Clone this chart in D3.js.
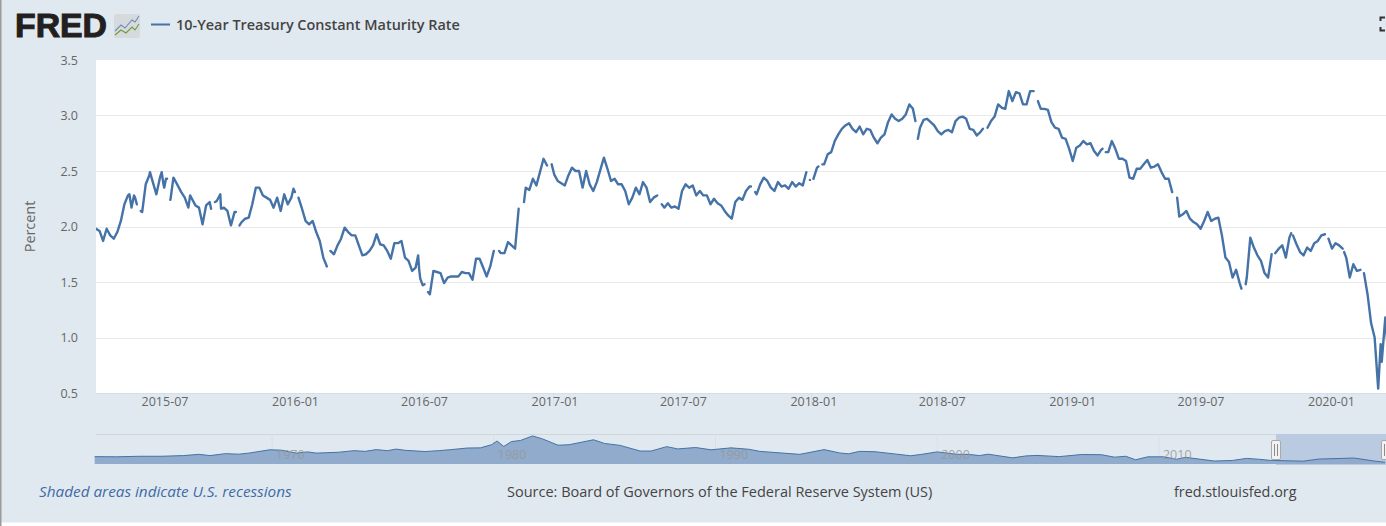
<!DOCTYPE html>
<html><head><meta charset="utf-8">
<script src="https://cdnjs.cloudflare.com/ajax/libs/d3/7.8.5/d3.min.js"></script>
<style>html,body{margin:0;padding:0;background:#fff;overflow:hidden}svg{display:block}text{font-family:"Open Sans",sans-serif}</style>
</head><body><svg id="c" width="1386" height="526"></svg>
<script>
const seriesName = "10-Year Treasury Constant Maturity Rate";
const firstDate = "2015-04-02";
const stepDays = 5;
const yTicks = [0.5,1.0,1.5,2.0,2.5,3.0,3.5];
const xTicks = ["2015-07","2016-01","2016-07","2017-01","2017-07","2018-01","2018-07","2019-01","2019-07","2020-01"];
const rates = [
1.98,1.96,1.87,1.98,1.92,1.89,1.95,2.05,2.20,2.28,2.17,2.26,null,2.13,2.38,2.46,2.40,2.29,2.44,2.38,2.43,
2.25,2.43,2.37,2.31,2.26,2.17,2.25,2.19,2.17,2.02,2.19,2.22,null,2.23,2.29,2.17,2.14,2.01,2.13,null,2.04,
2.07,2.08,2.20,2.35,2.35,2.28,2.26,2.24,2.17,2.26,2.14,2.29,2.20,2.26,2.31,2.26,2.16,2.05,2.02,2.05,1.95,
1.87,1.72,1.64,1.78,1.75,1.83,1.89,1.99,1.95,1.92,1.92,1.83,1.74,1.75,1.78,1.83,1.93,1.84,1.83,1.78,1.71,
1.85,1.85,1.87,1.72,1.69,1.60,1.63,1.61,1.47,null,1.39,1.60,1.59,1.58,1.49,1.54,1.55,1.55,1.55,1.59,1.58,
1.58,1.52,1.71,1.71,1.63,1.55,1.64,1.78,null,1.76,1.76,1.86,1.83,1.80,2.16,null,2.35,2.33,2.43,2.37,2.49,
2.61,2.55,null,2.47,2.41,2.39,2.37,2.46,2.53,2.50,2.50,2.35,2.50,2.38,2.32,2.40,2.51,2.62,2.52,2.41,2.43,
2.38,2.38,2.32,2.20,2.26,2.35,2.29,2.40,2.35,2.22,2.26,2.28,null,2.17,2.21,2.17,2.18,2.16,2.32,2.38,2.35,
2.37,2.28,2.32,2.28,2.28,2.20,2.25,2.21,2.19,2.14,2.10,2.07,2.22,2.26,2.24,2.32,2.36,null,2.29,2.38,2.44,
2.41,2.35,2.32,2.40,2.36,2.37,2.34,2.40,2.36,2.39,2.37,2.49,2.42,2.43,2.53,null,2.56,2.65,2.67,2.77,2.83,
2.88,2.91,2.93,2.88,2.85,2.90,2.83,2.88,2.87,2.80,2.75,2.80,2.83,2.94,3.01,2.97,2.95,2.97,3.01,3.10,3.06,
null,2.89,2.96,2.97,2.94,2.91,2.86,2.83,2.86,2.87,2.85,2.95,2.98,2.99,2.97,2.88,2.87,2.82,2.85,null,2.89,
2.95,2.99,3.10,3.07,3.06,3.22,3.13,3.21,3.20,3.10,3.10,3.22,3.22,null,3.06,3.06,3.05,2.94,2.89,2.88,2.80,
2.79,2.70,2.59,2.71,2.73,2.77,2.74,2.75,2.68,2.64,2.69,null,2.67,2.77,2.70,2.61,2.61,2.59,2.44,2.43,2.52,
2.52,2.56,2.60,2.53,2.54,2.56,2.49,2.43,2.43,2.31,null,2.09,2.11,2.14,2.07,2.04,2.02,1.98,2.05,2.13,2.05,
2.07,2.08,1.92,1.72,1.68,1.54,1.61,1.49,null,1.54,1.90,1.81,1.74,1.69,1.58,1.54,1.75,1.76,1.80,1.83,1.72,
1.90,1.92,1.84,1.77,1.74,1.81,1.78,1.85,1.87,1.92,1.93,1.89,1.80,1.85,1.83,1.80,1.72,1.54,1.66,1.60,1.61,
1.58,1.39,1.13,1.00,0.54,0.78,1.18,0.77];
// extra readings between the regular samples: sample position, then rate (null marks a hole in the published series)
const extraSteps = [9.4,10.7,11.5,12.6,15.2,18.5,19.2,19.7,20.5,20.9,21.8,26.5,32.4,33.5,35.2,39.4,40.4,55.6,56.7,65.5,90.7,91.3,92.5,93.5,113.5,120.5,128.3,159.3,184.4,185.6,200.6,201.6,203.4,204.5,230.7,231.4,249.7,265.2,283.4,284.3,304.4,322.5,323.7,331.5,336.5,336.9,346.6,351.1,351.4,356.5,361.7];
const extraRates = [2.29,2.28,2.20,2.14,2.49,2.49,2.35,2.43,null,2.24,2.44,2.28,2.16,2.22,2.16,2.13,2.01,2.34,null,null,1.74,1.53,1.48,1.41,1.78,2.22,2.56,2.20,2.36,2.31,null,null,2.54,2.56,2.95,2.79,2.88,3.13,2.70,2.67,2.26,1.44,1.48,null,1.94,null,null,null,1.77,null,0.94];

const navYears = [1962,1963,1964,1965,1966,1966.7,1967.2,1967.9,1968.5,1969,1969.9,1970.4,1971.1,1971.6,1972,1973,1973.7,1974.2,1974.7,1975.2,1975.6,1976,1976.9,1977.5,1978,1978.8,1979.4,1979.9,1980.15,1980.45,1980.8,1981.2,1981.75,1982.2,1982.9,1983.4,1984.5,1985,1985.7,1986.6,1987.1,1987.8,1988.3,1989.1,1989.8,1990.7,1991.5,1992,1993.8,1994.9,1995.6,1996,1996.5,1997.2,1998.8,1999.3,2000,2000.9,2001.4,2001.9,2002.3,2003.4,2004,2004.5,2005.5,2006.5,2007.4,2008,2008.5,2008.95,2009.5,2010.2,2010.8,2011.2,2012.5,2013.3,2013.95,2014.5,2015,2016.5,2017.2,2018.8,2019.7,2020.2];
const navRates = [4.0,3.9,4.2,4.2,4.6,5.3,4.6,5.7,5.4,6.1,7.9,7.7,6.0,6.7,6.0,6.5,7.4,7.0,8.0,7.4,8.3,7.6,6.9,7.4,7.9,8.9,9.0,10.8,12.9,9.8,12.6,13.2,15.8,14.1,10.5,10.8,13.6,11.5,10.4,7.2,7.2,9.7,8.4,9.2,7.9,9.0,8.2,7.0,5.3,8.0,6.1,5.6,7.0,6.8,4.5,5.3,6.7,5.3,5.3,4.6,5.4,3.3,4.4,4.7,4.0,5.2,5.1,3.7,4.2,2.2,3.9,3.9,2.5,3.6,1.5,1.8,3.0,2.5,1.9,1.4,2.6,3.2,1.5,0.8];
const navLabels = [1970,1980,1990,2000,2010];

const svg = d3.select("#c");
const W=1386,H=526;
const L=96,R=1386,T=60,B=393;
const parse = d3.utcParse("%Y-%m-%d");
const start = parse(firstDate);
const atStep = s => new Date(+start + s*stepDays*864e5);
const pts = rates.map((v,i)=>({s:i,v})).concat(extraSteps.map((s,i)=>({s,v:extraRates[i]})))
  .sort((a,b)=>a.s-b.s).map(p=>({d:atStep(p.s),v:p.v}));

svg.append("rect").attr("width",W).attr("height",522.5).attr("fill","#e1e9f0");
svg.append("rect").attr("width",1.5).attr("height",526).attr("fill","#9a9a9a");

const x = d3.scaleUtc().domain([start,d3.utcDay.offset(start,1816)]).range([L,R]);
const y = d3.scaleLinear().domain([0.5,3.5]).range([B,T]);

svg.append("rect").attr("x",L).attr("y",T).attr("width",R-L).attr("height",B-T).attr("fill","#fff");

// grid
svg.append("g").selectAll("line").data(yTicks.filter(t=>t>0.5&&t<3.5)).join("line")
  .attr("x1",L).attr("x2",R).attr("y1",d=>Math.round(y(d))+.5).attr("y2",d=>Math.round(y(d))+.5)
  .attr("stroke","#e9e9e9").attr("stroke-width",1.2);
svg.append("line").attr("x1",L).attr("x2",R).attr("y1",B+.5).attr("y2",B+.5).attr("stroke","#d5deea");

// y axis labels
const yG = svg.append("g").attr("transform",`translate(${L-18},0)`)
  .call(d3.axisLeft(y).tickValues(yTicks).tickFormat(d3.format(".1f")).tickSize(0).tickPadding(0));
yG.select(".domain").remove();
yG.selectAll("text").attr("font-size",12.5).attr("fill","#666").attr("font-family",'"Open Sans",sans-serif');

// x axis: tick marks and labels sit on slightly different spacings in the source chart
const monthFmt = d3.utcFormat("%Y-%m");
const xDates = xTicks.map(s=>parse(s+"-01"));
const edge = [xDates[0],xDates[xDates.length-1]];
const xTick = d3.scaleUtc().domain(edge).range([164.3,1327]);
const xLabel = d3.scaleUtc().domain(edge).range([164.5,1331]);
const xG = svg.append("g").attr("transform",`translate(0,${B})`)
  .call(d3.axisBottom(xTick).tickValues(xDates).tickFormat(monthFmt).tickSize(0).tickPadding(0));
xG.select(".domain").remove();
xG.selectAll("text").attr("font-size",12.5).attr("fill","#666").attr("font-family",'"Open Sans",sans-serif')
  .attr("dx",d=>xLabel(d)-xTick(d)).attr("dy",13);
xG.selectAll("line").attr("y2",12).attr("stroke","#d3deea").attr("stroke-width",1);

svg.append("text").attr("transform",`translate(35,${(T+B)/2}) rotate(-90)`).attr("text-anchor","middle")
  .attr("font-size",14.4).attr("fill","#666").text("Percent");

// series
svg.append("clipPath").attr("id","pc").append("rect").attr("x",L).attr("y",T-5).attr("width",R-L).attr("height",B-T+10);
const line = d3.line().defined(d=>d.v!==null).x(d=>x(d.d)).y(d=>y(d.v));
svg.append("path").datum(pts).attr("clip-path","url(#pc)").attr("d",line).attr("fill","none")
  .attr("stroke","#4572a7").attr("stroke-width",2.4).attr("stroke-linejoin","round").attr("stroke-linecap","round");

// navigator
const nT=434,nB=464;
const nx = d3.scaleLinear().domain([1962.06,2020.24]).range([L,R]);
const ny = d3.scaleLinear().domain([-0.2,16.9]).range([nB,nT]);
const nav = navYears.map((yr,i)=>({yr,v:navRates[i]}));
svg.append("line").attr("x1",L).attr("x2",R).attr("y1",nT+.5).attr("y2",nT+.5).attr("stroke","#d3d6d8");
const sel0 = 1276;
svg.append("rect").attr("x",sel0).attr("y",nT).attr("width",R-sel0).attr("height",nB-nT+1).attr("fill","#b9cae1");
svg.append("g").selectAll("line").data(navLabels).join("line")
  .attr("x1",d=>nx(d)).attr("x2",d=>nx(d)).attr("y1",nT).attr("y2",nB).attr("stroke","#d9dfe5").attr("stroke-width",1);
svg.append("path").datum(nav).attr("fill","#90abcb")
  .attr("d",d3.area().x(d=>nx(d.yr)).y0(nB).y1(d=>ny(d.v)));
svg.append("path").datum(nav).attr("fill","none").attr("stroke","#4572a7").attr("stroke-width",1)
  .attr("d",d3.line().x(d=>nx(d.yr)).y(d=>ny(d.v)));
svg.append("g").selectAll("text").data(navLabels).join("text")
  .attr("x",d=>nx(d)+4).attr("y",459).attr("font-size",12.5).attr("fill","#999").attr("opacity",.85).text(d=>d);
[1276,1386].forEach((hx)=>{
  const g=svg.append("g").attr("transform",`translate(${hx},0)`);
  g.append("rect").attr("x",-4.5).attr("y",440.5).attr("width",9).attr("height",19).attr("rx",1.5).attr("fill","#f2f2f2").attr("stroke","#a9a9a9");
  g.append("line").attr("x1",-1.5).attr("x2",-1.5).attr("y1",444).attr("y2",456).attr("stroke","#8a8a8a");
  g.append("line").attr("x1",1.5).attr("x2",1.5).attr("y1",444).attr("y2",456).attr("stroke","#8a8a8a");
});

// header
svg.append("text").attr("x",15).attr("y",37).attr("font-size",33).attr("font-weight",700)
  .attr("fill","#231f20").attr("textLength",92).attr("lengthAdjust","spacingAndGlyphs")
  .style("font-family",'"Liberation Sans",sans-serif').style("stroke","#231f20").style("stroke-width",1).text("FRED");
const ic = svg.append("g").attr("transform","translate(114,14)");
ic.append("rect").attr("width",26).attr("height",24).attr("rx",2).attr("fill","#d7dadc");
ic.append("path").attr("d","M1 17L7 11L11 14L18 6L21 8L25 2").attr("fill","none").attr("stroke","#6b8fb8").attr("stroke-width",1.1);
ic.append("path").attr("d","M1 21L7 16L12 19L18 13L21 16L25 10").attr("fill","none").attr("stroke","#6f9a3c").attr("stroke-width",1.1);

svg.append("line").attr("x1",151).attr("x2",170).attr("y1",24.5).attr("y2",24.5).attr("stroke","#4572a7").attr("stroke-width",2);
svg.append("text").attr("x",176).attr("y",30).attr("font-size",14.45).attr("font-weight",600).attr("fill","#444").text(seriesName);
svg.append("path").attr("d","M1385 17.5H1380.5V21M1380.5 27V30.5H1385").attr("fill","none").attr("stroke","#333").attr("stroke-width",2);

// footer
svg.append("text").attr("x",39).attr("y",497).attr("font-size",15.3).attr("font-style","italic").attr("fill","#3f6ba5").text("Shaded areas indicate U.S. recessions");
svg.append("text").attr("x",507).attr("y",497).attr("font-size",14.5).attr("fill","#444").text("Source: Board of Governors of the Federal Reserve System (US)");
svg.append("text").attr("x",1174).attr("y",497).attr("font-size",14.35).attr("fill","#444").text("fred.stlouisfed.org");
</script></body></html>
